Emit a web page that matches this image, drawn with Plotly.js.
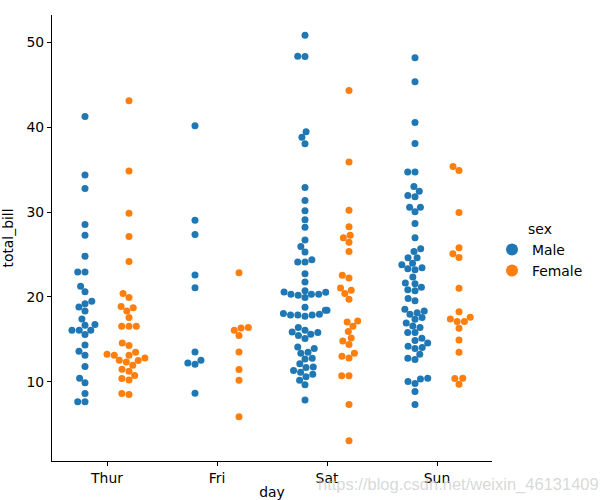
<!DOCTYPE html>
<html>
<head>
<meta charset="utf-8">
<script src="https://cdn.plot.ly/plotly-3.0.1.min.js"></script>
<style>html,body{margin:0;padding:0;background:#fff;}</style>
</head>
<body>
<div id="chart" style="width:600px;height:500px;"></div>
<script>
const days = ['Thur', 'Fri', 'Sat', 'Sun'];
const sexes = ['Male', 'Female'];
const yTicks = [10, 20, 30, 40, 50];

const thurMale = [41.26, 34.37, 32.76, 28.53, 27.27, 24.8, 22.93, 22.93, 21.25, 20.6, 19.5, 19.2, 18.8, 18.35, 17.4, 16.74, 16.66, 16.07, 16.07, 16.07, 15.57, 14.35, 13.6, 13.14, 11.8, 10.43, 9.88, 8.64, 7.65, 7.65];
const thurFemale = [43.11, 34.83, 29.86, 27.12, 24.18, 20.39, 19.92, 18.86, 18.74, 18.35, 17.57, 16.55, 16.55, 16.55, 14.58, 14.27, 13.49, 13.14, 13.14, 13.25, 12.82, 12.55, 12.35, 12.51, 11.96, 11.49, 11.26, 10.75, 10.4, 10.23, 8.52, 8.64];
const friMale = [40.17, 29.04, 27.36, 22.58, 21.09, 13.53, 12.55, 12.23, 12.08, 8.67];
const friFemale = [22.85, 16.39, 16.35, 16.07, 15.45, 13.53, 11.46, 10.2, 5.89];
const satMale = [50.81, 48.35, 48.3, 39.46, 38.79, 38.05, 32.88, 31.35, 30.14, 29.08, 28.22, 26.69, 25.95, 25.28, 24.38, 24.1, 24.1, 22.74, 21.75, 20.74, 20.58, 20.54, 20.31, 20.31, 20.31, 19.92, 18.78, 18.43, 18.43, 18.04, 17.96, 17.87, 17.87, 17.87, 17.72, 16.39, 16.07, 15.87, 15.8, 15.6, 15.45, 15.1, 14.11, 13.92, 13.49, 13.37, 12.78, 12.7, 12.12, 11.76, 11.69, 11.34, 11.14, 10.9, 10.59, 10.2, 9.65, 7.85, 20.2];
const satFemale = [44.3, 35.9, 30.21, 28.26, 27.27, 26.97, 26.45, 25.36, 22.54, 22.22, 21.05, 20.78, 20.39, 19.72, 17.17, 17.05, 16.55, 15.92, 15.17, 14.82, 14.39, 13.37, 13.02, 12.82, 10.71, 10.71, 7.34, 3.07];
const sunMale = [48.17, 45.35, 40.55, 38.07, 34.72, 34.72, 33.0, 32.45, 31.94, 31.79, 30.57, 30.57, 30.02, 28.65, 26.97, 25.68, 25.36, 24.62, 24.62, 23.98, 23.8, 23.44, 23.33, 23.21, 22.34, 21.63, 21.56, 21.13, 20.86, 20.74, 19.83, 19.56, 18.54, 18.35, 18.15, 17.96, 17.57, 17.37, 16.93, 16.58, 16.39, 15.8, 15.8, 15.13, 14.86, 14.58, 14.19, 14.04, 13.92, 13.25, 12.78, 12.63, 10.43, 10.35, 10.04, 9.81, 8.87, 7.34];
const sunFemale = [35.35, 34.88, 29.94, 25.79, 25.09, 24.65, 21.01, 18.27, 17.6, 17.4, 17.1, 17.1, 16.31, 14.94, 13.49, 10.43, 10.4, 9.73];

const maleByDay = [thurMale, friMale, satMale, sunMale];
const femaleByDay = [thurFemale, friFemale, satFemale, sunFemale];
const groups = [maleByDay, femaleByDay];
const colors = ['#1f77b4', '#ff7f0e'];
const dodge = [-0.2, 0.2];
const markerD = 7;

function baseTraces(xs) {
  return groups.map((g, s) => {
    const ys = [];
    g.forEach(arr => arr.forEach(v => ys.push(v)));
    return {
      type: 'scatter', mode: 'markers', name: sexes[s],
      x: xs ? xs[s] : g.flatMap((arr, d) => arr.map(() => d + dodge[s])),
      y: ys,
      marker: {color: colors[s], size: markerD, line: {width: 0}},
      hoverinfo: 'x+y'
    };
  });
}

const layout = {
  width: 600, height: 500,
  margin: {l: 52, r: 107, t: 15, b: 39},
  paper_bgcolor: '#fff', plot_bgcolor: '#fff',
  font: {family: 'DejaVu Sans', size: 13.9, color: '#000'},
  showlegend: true,
  legend: {
    x: 1.0, xanchor: 'left', y: 0.47, yanchor: 'middle',
    bgcolor: 'rgba(0,0,0,0)', font: {size: 13.9},
    itemsizing: 'constant',
    title: {text: 'sex', side: 'top center', font: {size: 13.9}},
    tracegroupgap: 0
  },
  xaxis: {
    range: [-0.5, 3.5], tickvals: [0, 1, 2, 3], ticktext: days,
    showline: true, linecolor: '#000', linewidth: 1,
    ticks: 'outside', ticklen: 4, tickcolor: '#000', tickwidth: 1,
    tickfont: {size: 13.9},
    showgrid: false, zeroline: false, automargin: false,
    title: {text: 'day', standoff: 17, font: {size: 13.9}}
  },
  yaxis: {
    range: [0.68, 53.2], tickvals: yTicks,
    showline: true, linecolor: '#000', linewidth: 1,
    ticks: 'outside', ticklen: 4, tickcolor: '#000', tickwidth: 1,
    tickfont: {size: 13.9},
    showgrid: false, zeroline: false, automargin: false,
    title: {text: 'total_bill', standoff: 9, font: {size: 13.9}}
  },
  annotations: [{
    text: 'https://blog.csdn.net/weixin_46131409',
    xref: 'paper', yref: 'paper', x: 0.6, y: -0.052,
    xanchor: 'left', yanchor: 'middle', showarrow: false,
    font: {family: 'Liberation Sans', size: 16.5, color: 'rgba(200,200,200,0.7)'}
  }]
};

function swarm(ypx, d, maxHalf) {
  const n = ypx.length;
  const order = ypx.map((v, i) => i).sort((a, b) => ypx[b] - ypx[a]);
  const placed = [];
  const out = new Array(n).fill(0);
  for (const i of order) {
    const y = ypx[i];
    const neigh = placed.filter(p => Math.abs(p.y - y) < d);
    const cands = [0];
    let leftFirst = true;
    neigh.forEach(p => {
      const dy = p.y - y;
      const dx = Math.sqrt(Math.max(d * d - dy * dy, 0)) * 1.05;
      if (leftFirst) cands.push(p.x - dx, p.x + dx); else cands.push(p.x + dx, p.x - dx);
      leftFirst = !leftFirst;
    });
    const idx = cands.map((c, k) => k).sort((a, b) => (Math.abs(cands[a]) - Math.abs(cands[b])) || (a - b));
    let chosen = 0;
    for (const k of idx) {
      const cx = cands[k];
      const ok = neigh.every(p => (p.x - cx) ** 2 + (p.y - y) ** 2 >= d * d - 1e-6);
      if (ok) { chosen = cx; break; }
    }
    placed.push({x: chosen, y: y});
    out[i] = Math.max(-maxHalf, Math.min(maxHalf, chosen));
  }
  return out;
}

const gd = document.getElementById('chart');
Plotly.newPlot(gd, baseTraces(null), layout, {displayModeBar: false, staticPlot: true}).then(() => {
  const xa = gd._fullLayout.xaxis, ya = gd._fullLayout.yaxis;
  const pxPerCat = xa._length / (xa.range[1] - xa.range[0]);
  const d = 6.94;
  const xs = groups.map((g, s) => {
    const res = [];
    g.forEach((arr, day) => {
      const ypx = arr.map(v => ya.l2p(v));
      const off = swarm(ypx, d, 0.2 * pxPerCat);
      off.forEach(o => res.push(day + dodge[s] + o / pxPerCat));
    });
    return res;
  });
  return Plotly.react(gd, baseTraces(xs), layout, {displayModeBar: false, staticPlot: true});
});
</script>
</body>
</html>
